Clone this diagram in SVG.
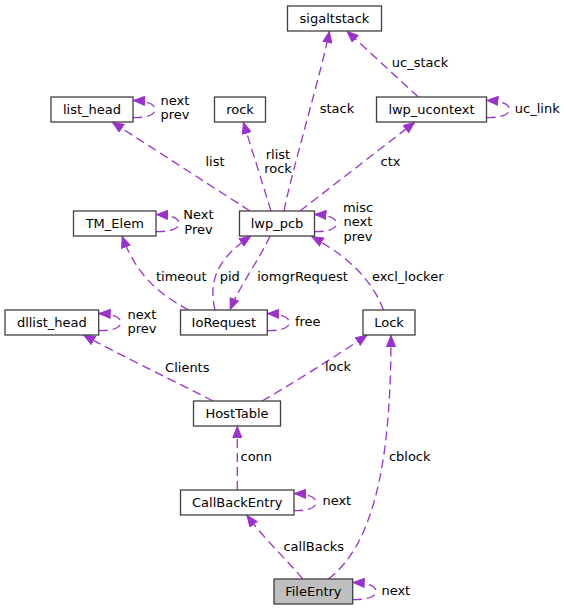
<svg xmlns="http://www.w3.org/2000/svg" width="567" height="611" viewBox="0 0 567 611">
<style>
.node rect{fill:#ffffff;stroke:#404040;stroke-width:1.3}
.node.main rect{fill:#bfbfbf}
.node text{font-family:"DejaVu Sans",sans-serif;font-size:13px;fill:#000;text-anchor:middle}
.edges path{fill:none;stroke:#9a32cd;stroke-width:1.3;stroke-dasharray:9,5;marker-end:url(#ah)}
.lbl{font-family:"DejaVu Sans",sans-serif;font-size:13px;fill:#000;text-anchor:middle}
</style>
<defs>
<marker id="ah" viewBox="0 0 12 10" refX="12" refY="5" markerWidth="12" markerHeight="10" markerUnits="userSpaceOnUse" orient="auto">
<path d="M0.5,0.5 L11.5,5 L0.5,9.5 Z" fill="#9a32cd" stroke="#9a32cd" stroke-width="1" stroke-dasharray="none"/>
</marker>
</defs>
<rect x="0" y="0" width="567" height="611" fill="#ffffff"/>
<g id="edges" class="edges">
<path d="M250,211 L112,122"/>
<path d="M271,211 L243.3,122"/>
<path d="M284,211 C292,170 322,70 329.5,31"/>
<path d="M300,211 L415,122"/>
<path d="M418.3,97 L346.7,31"/>
<path d="M133,117.5 C143,118 155,116 155,109.5 C155,104 147,101 133,100.5"/>
<path d="M486.5,117.5 C496.5,118 509.5,116 509.5,109.5 C509.5,104 501.5,101 486.5,100.5"/>
<path d="M156,231.5 C166,232 179,230 179,223.5 C179,218 171,215 156,214.5"/>
<path d="M314.5,231.5 C324.5,232 336.5,230 336.5,223.5 C336.5,218 328.5,215 314.5,214.5"/>
<path d="M188.5,310 C165,297 138,280 122,236"/>
<path d="M215,310 C208,280 218,258 251,236"/>
<path d="M270,236 C262,255 240,285 230,310"/>
<path d="M383.5,310 C375,288 358,262 311.5,236.5"/>
<path d="M98.7,330.5 C108.7,331 120.7,329 120.7,322.5 C120.7,317 112.7,314 98.7,313.5"/>
<path d="M267.3,330.5 C277.3,331 289.3,329 289.3,322.5 C289.3,317 281.3,314 267.3,313.5"/>
<path d="M213,401 C180,384 120,355 83.3,335"/>
<path d="M262,401 C290,385 330,360 367.3,335"/>
<path d="M237.3,490 L237.3,426"/>
<path d="M294,510.5 C304,511 316,509 316,502.5 C316,497 308,494 294,493.5"/>
<path d="M302.7,579 C290,563 265,540 246.7,515"/>
<path d="M328.3,579 C380,540 391,440 391,335"/>
<path d="M352.7,599.5 C362.7,600 376,598 376,591.5 C376,586 368,583 352.7,582.5"/>
</g>
<g id="edge-labels">
<text class="lbl" x="175" y="105">next</text>
<text class="lbl" x="175" y="119">prev</text>
<text class="lbl" x="215" y="166">list</text>
<text class="lbl" x="278" y="159">rlist</text>
<text class="lbl" x="278" y="173">rock</text>
<text class="lbl" x="337" y="113">stack</text>
<text class="lbl" x="420" y="67">uc_stack</text>
<text class="lbl" x="537.3" y="113">uc_link</text>
<text class="lbl" x="390.5" y="166">ctx</text>
<text class="lbl" x="198.5" y="219">Next</text>
<text class="lbl" x="198.5" y="233.5">Prev</text>
<text class="lbl" x="358" y="211.5">misc</text>
<text class="lbl" x="358" y="226">next</text>
<text class="lbl" x="358" y="240.5">prev</text>
<text class="lbl" x="181.3" y="280.5">timeout</text>
<text class="lbl" x="229.7" y="280.5">pid</text>
<text class="lbl" x="302.5" y="280.5">iomgrRequest</text>
<text class="lbl" x="407.7" y="280.5">excl_locker</text>
<text class="lbl" x="142" y="318.5">next</text>
<text class="lbl" x="142" y="333">prev</text>
<text class="lbl" x="307.8" y="325.5">free</text>
<text class="lbl" x="187.3" y="371.5">Clients</text>
<text class="lbl" x="338" y="371">lock</text>
<text class="lbl" x="256.3" y="461">conn</text>
<text class="lbl" x="409.7" y="461">cblock</text>
<text class="lbl" x="336.8" y="505">next</text>
<text class="lbl" x="313.8" y="551">callBacks</text>
<text class="lbl" x="395.8" y="595">next</text>
</g>
<g id="sigaltstack" class="node"><rect x="287.5" y="6" width="94" height="25"/><text x="334.5" y="22.5">sigaltstack</text></g>
<g id="list_head" class="node"><rect x="51" y="97" width="82" height="25"/><text x="92" y="113.5">list_head</text></g>
<g id="rock" class="node"><rect x="214.5" y="97" width="51" height="25"/><text x="240" y="113.5">rock</text></g>
<g id="lwp_ucontext" class="node"><rect x="376.5" y="97" width="110" height="25"/><text x="431.5" y="113.5">lwp_ucontext</text></g>
<g id="TM_Elem" class="node"><rect x="73.5" y="211" width="82.5" height="25"/><text x="114.75" y="227.5">TM_Elem</text></g>
<g id="lwp_pcb" class="node"><rect x="239.5" y="211" width="75" height="25"/><text x="277" y="227.5">lwp_pcb</text></g>
<g id="dllist_head" class="node"><rect x="5" y="310" width="93.7" height="25"/><text x="51.85" y="326.5">dllist_head</text></g>
<g id="IoRequest" class="node"><rect x="180.5" y="310" width="86.8" height="25"/><text x="223.9" y="326.5">IoRequest</text></g>
<g id="Lock" class="node"><rect x="363" y="310" width="52" height="25"/><text x="389" y="326.5">Lock</text></g>
<g id="HostTable" class="node"><rect x="193.5" y="401" width="87" height="25"/><text x="237" y="417.5">HostTable</text></g>
<g id="CallBackEntry" class="node"><rect x="180.5" y="490" width="113.5" height="25"/><text x="237.25" y="506.5">CallBackEntry</text></g>
<g id="FileEntry" class="node main"><rect x="274" y="579" width="78.7" height="25"/><text x="313.35" y="595.5">FileEntry</text></g>
</svg>
